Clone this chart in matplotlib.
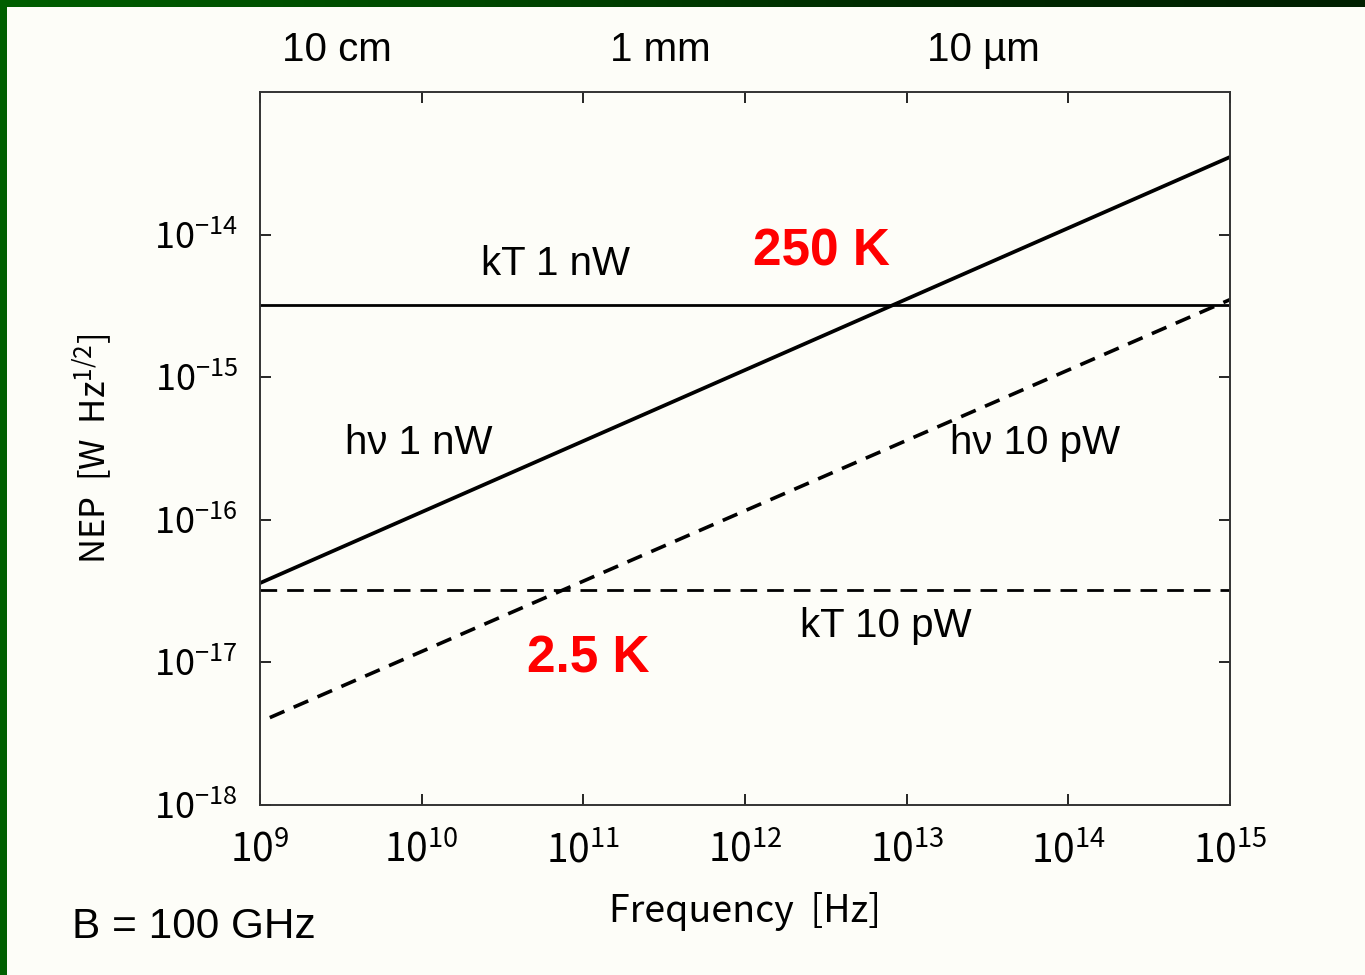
import numpy as np
import matplotlib.pyplot as plt
from matplotlib import font_manager
from matplotlib.colors import LinearSegmentedColormap

# data (endpoints of straight log-log lines)
freq_hv = [1e9, 1e15]
nep_hv_1nw = [3.6e-17, 3.5e-14]
freq_hv10 = [1.15e9, 1e15]
nep_hv_10pw = [4.1e-18, 3.5e-15]
freq_kt = [1e9, 1e15]
nep_kt_1nw = [3.2e-15, 3.2e-15]
nep_kt_10pw = [3.2e-17, 3.2e-17]

x_ticks = [1e9, 1e10, 1e11, 1e12, 1e13, 1e14, 1e15]
x_ticklabels = ['$10^{9}$', '$10^{10}$', '$10^{11}$', '$10^{12}$', '$10^{13}$', '$10^{14}$', '$10^{15}$']
y_ticks = [1e-18, 1e-17, 1e-16, 1e-15, 1e-14]
y_ticklabels = ['$10^{-18}$', '$10^{-17}$', '$10^{-16}$', '$10^{-15}$', '$10^{-14}$']
wl_pos = [3e9, 3e11, 3e13]
wl_labels = ['10 cm', '1 mm', '10 \u00b5m']

names = {f.name for f in font_manager.fontManager.ttflist}
tickfont = 'Liberation Sans Narrow' if 'Liberation Sans Narrow' in names else 'Noto Sans CJK JP'

plt.rcParams['mathtext.fontset'] = 'custom'
plt.rcParams['mathtext.rm'] = tickfont
plt.rcParams['mathtext.it'] = tickfont
plt.rcParams['font.family'] = ['Liberation Sans', 'DejaVu Sans']

bg = '#fdfdf8'
fig = plt.figure(figsize=(13.65, 9.75), dpi=100, facecolor=bg)

# green frame (left bar and gradient top bar)
left = fig.add_axes([0, 0, 7 / 1365, 1])
left.set_axis_off()
left.add_patch(plt.Rectangle((0, 0), 1, 1, color='#005f00', transform=left.transAxes))
top = fig.add_axes([0, 1 - 7 / 975, 1, 7 / 975])
top.set_axis_off()
cmap = LinearSegmentedColormap.from_list('g', ['#005f00', '#004a00', '#002a00', '#002000'])
top.imshow(np.linspace(0, 1, 256)[None, :], aspect='auto', cmap=cmap, extent=[0, 1, 0, 1])

ax = fig.add_axes([260 / 1365, 1 - 805 / 975, 970 / 1365, 713 / 975])
ax.set_facecolor(bg)
ax.set_xscale('log')
ax.set_yscale('log')
ax.set_xlim(1e9, 1e15)
ax.set_ylim(1e-18, 1e-13)

ax.plot(freq_hv, nep_hv_1nw, color='black', lw=2.7)
ax.plot(freq_hv10, nep_hv_10pw, color='black', lw=2.6, dashes=(4.4, 2.8))
ax.plot(freq_kt, nep_kt_1nw, color='black', lw=2.0)
ax.plot(freq_kt, nep_kt_10pw, color='black', lw=2.0, dashes=(6.0, 3.6))

ax.set_xticks(x_ticks)
ax.set_xticklabels(x_ticklabels)
ax.set_yticks(y_ticks)
ax.set_yticklabels(y_ticklabels)
ax.minorticks_off()
ax.tick_params(direction='in', length=8, width=1.2, top=True, right=True)
ax.tick_params(axis='x', pad=18, labelsize=28)
ax.tick_params(axis='y', pad=16, labelsize=26)
for s in ax.spines.values():
    s.set_linewidth(1.4)
    s.set_color('#333333')

ax.set_xlabel('Frequency  [Hz]', fontsize=27, family='Noto Sans CJK JP', labelpad=16)
ax.set_ylabel('NEP  [W  Hz$^{1/2}$]', fontsize=25, family='Noto Sans CJK JP', labelpad=28)

txt = dict(fontsize=29, color='black')
ax.text(0.228, 0.744, 'kT 1 nW', transform=ax.transAxes, **txt)
ax.text(0.088, 0.492, 'h\u03bd 1 nW', transform=ax.transAxes, **txt)
ax.text(0.711, 0.492, 'h\u03bd 10 pW', transform=ax.transAxes, **txt)
ax.text(0.557, 0.236, 'kT 10 pW', transform=ax.transAxes, **txt)
ax.text(0.508, 0.756, '250 K', transform=ax.transAxes, fontsize=37,
        fontweight='bold', color='#ff0000')
ax.text(0.275, 0.186, '2.5 K', transform=ax.transAxes, fontsize=37,
        fontweight='bold', color='#ff0000')

for p, lab in zip(wl_pos, wl_labels):
    ax.text(p, 1.059, lab, transform=ax.get_xaxis_transform(), ha='center',
            va='center', fontsize=29, clip_on=False)

fig.text(72 / 1365, 1 - 927 / 975, 'B = 100 GHz', fontsize=30.5, va='center')

fig.savefig('out.png', dpi=100, facecolor=bg)
